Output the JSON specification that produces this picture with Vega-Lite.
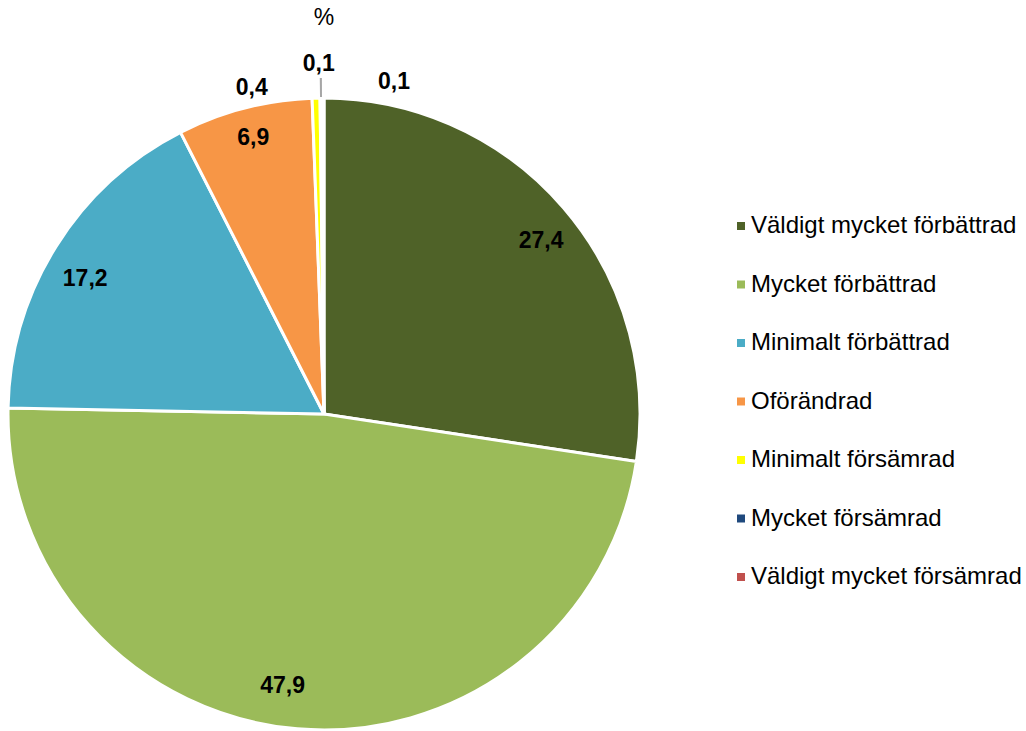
{
  "$schema": "https://vega.github.io/schema/vega-lite/v6.json",
  "autosize": {"type": "none"},
  "width": 648,
  "height": 632,
  "padding": {"left": 0, "top": 98, "right": 378, "bottom": 1},
  "background": "white",
  "title": {"text": "%", "fontSize": 23, "fontWeight": "normal", "font": "Liberation Sans", "color": "#000000", "anchor": "middle", "frame": "group", "offset": 23},
  "data": {"values": [
    {"i": 1, "kategori": "Väldigt mycket förbättrad", "procent": 27.4, "etikett": "27,4"},
    {"i": 2, "kategori": "Mycket förbättrad", "procent": 47.9, "etikett": "47,9"},
    {"i": 3, "kategori": "Minimalt förbättrad", "procent": 17.2, "etikett": "17,2"},
    {"i": 4, "kategori": "Oförändrad", "procent": 6.9, "etikett": "6,9"},
    {"i": 5, "kategori": "Minimalt försämrad", "procent": 0.4, "etikett": "0,4"},
    {"i": 6, "kategori": "Mycket försämrad", "procent": 0.1, "etikett": "0,1"},
    {"i": 7, "kategori": "Väldigt mycket försämrad", "procent": 0.1, "etikett": "0,1"}
  ]},
  "transform": [
    {"stack": "procent", "groupby": [], "sort": [{"field": "i", "order": "ascending"}], "as": ["start", "slut"]},
    {"calculate": "(datum.start + datum.slut) / 2", "as": "mitt"}
  ],
  "resolve": {"scale": {"theta": "shared"}},
  "layer": [
    {
      "mark": {"type": "arc", "radius": 316, "stroke": "white", "strokeWidth": 3},
      "encoding": {
        "theta": {"field": "start", "type": "quantitative", "stack": null, "scale": {"domain": [0, 100]}},
        "theta2": {"field": "slut"},
        "color": {
          "field": "kategori", "type": "nominal",
          "sort": ["Väldigt mycket förbättrad", "Mycket förbättrad", "Minimalt förbättrad", "Oförändrad", "Minimalt försämrad", "Mycket försämrad", "Väldigt mycket försämrad"],
          "scale": {
            "domain": ["Väldigt mycket förbättrad", "Mycket förbättrad", "Minimalt förbättrad", "Oförändrad", "Minimalt försämrad", "Mycket försämrad", "Väldigt mycket försämrad"],
            "range": ["#4F6228", "#9BBB59", "#4BACC6", "#F79646", "#FFFF00", "#1F497D", "#C0504D"]
          },
          "legend": {
            "title": null, "orient": "none", "legendX": 729, "legendY": 116,
            "symbolType": "square", "symbolSize": 64, "symbolStrokeWidth": 0,
            "labelFontSize": 24, "labelFont": "Liberation Sans", "labelColor": "#000000",
            "labelOffset": -2, "rowPadding": 34.5, "labelLimit": 400
          }
        }
      }
    },
    {
      "transform": [{"filter": "datum.kategori == 'Mycket försämrad'"}],
      "mark": {"type": "arc", "radius": 336, "radius2": 317, "color": "#A6A6A6"},
      "encoding": {
        "theta": {"field": "start", "type": "quantitative", "stack": null, "scale": {"domain": [0, 100]}},
        "theta2": {"field": "slut"}
      }
    },
    {
      "transform": [{"filter": "datum.kategori == 'Väldigt mycket förbättrad'"}],
      "mark": {"type": "text", "radius": 277, "dx": 7, "dy": 8, "fontSize": 23, "fontWeight": "bold", "font": "Liberation Sans", "color": "#000000"},
      "encoding": {"theta": {"field": "mitt", "type": "quantitative", "stack": null, "scale": {"domain": [0, 100]}}, "text": {"field": "etikett"}}
    },
    {
      "transform": [{"filter": "datum.kategori == 'Mycket förbättrad'"}],
      "mark": {"type": "text", "radius": 277, "dx": -18, "dy": -4, "fontSize": 23, "fontWeight": "bold", "font": "Liberation Sans", "color": "#000000"},
      "encoding": {"theta": {"field": "mitt", "type": "quantitative", "stack": null, "scale": {"domain": [0, 100]}}, "text": {"field": "etikett"}}
    },
    {
      "transform": [{"filter": "datum.kategori == 'Minimalt förbättrad'"}],
      "mark": {"type": "text", "radius": 277, "dx": -4, "dy": 12, "fontSize": 23, "fontWeight": "bold", "font": "Liberation Sans", "color": "#000000"},
      "encoding": {"theta": {"field": "mitt", "type": "quantitative", "stack": null, "scale": {"domain": [0, 100]}}, "text": {"field": "etikett"}}
    },
    {
      "transform": [{"filter": "datum.kategori == 'Oförändrad'"}],
      "mark": {"type": "text", "radius": 277, "dx": -1, "dy": -8, "fontSize": 23, "fontWeight": "bold", "font": "Liberation Sans", "color": "#000000"},
      "encoding": {"theta": {"field": "mitt", "type": "quantitative", "stack": null, "scale": {"domain": [0, 100]}}, "text": {"field": "etikett"}}
    },
    {
      "transform": [{"filter": "datum.kategori == 'Minimalt försämrad'"}],
      "mark": {"type": "text", "radius": 326, "dx": -64, "fontSize": 23, "fontWeight": "bold", "font": "Liberation Sans", "color": "#000000"},
      "encoding": {"theta": {"field": "mitt", "type": "quantitative", "stack": null, "scale": {"domain": [0, 100]}}, "text": {"field": "etikett"}}
    },
    {
      "transform": [{"filter": "datum.kategori == 'Mycket försämrad'"}],
      "mark": {"type": "text", "radius": 350, "dx": -2, "fontSize": 23, "fontWeight": "bold", "font": "Liberation Sans", "color": "#000000"},
      "encoding": {"theta": {"field": "mitt", "type": "quantitative", "stack": null, "scale": {"domain": [0, 100]}}, "text": {"field": "etikett"}}
    },
    {
      "transform": [{"filter": "datum.kategori == 'Väldigt mycket försämrad'"}],
      "mark": {"type": "text", "radius": 334, "dx": 71, "dy": 2, "fontSize": 23, "fontWeight": "bold", "font": "Liberation Sans", "color": "#000000"},
      "encoding": {"theta": {"field": "mitt", "type": "quantitative", "stack": null, "scale": {"domain": [0, 100]}}, "text": {"field": "etikett"}}
    }
  ]
}
